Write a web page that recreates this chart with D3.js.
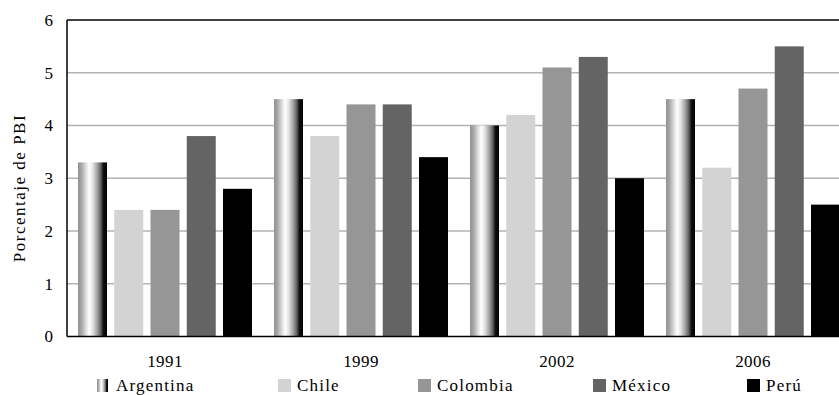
<!DOCTYPE html>
<html>
<head>
<meta charset="utf-8">
<script src="https://cdn.jsdelivr.net/npm/d3@7/dist/d3.min.js"></script>
<style>
  html, body { margin: 0; padding: 0; background: #fff; }
  svg { display: block; }
  svg text { font-family: "Liberation Serif", "Times New Roman", serif; fill: #000; }
</style>
</head>
<body>
<svg id="chart" width="839" height="395"></svg>
<script>
// Gasto como porcentaje del PBI, por país y año
const years = ["1991", "1999", "2002", "2006"];
const countries = ["Argentina", "Chile", "Colombia", "México", "Perú"];
const argentina = [3.3, 4.5, 4.0, 4.5];
const chile     = [2.4, 3.8, 4.2, 3.2];
const colombia  = [2.4, 4.4, 5.1, 4.7];
const mexico    = [3.8, 4.4, 5.3, 5.5];
const peru      = [2.8, 3.4, 3.0, 2.5];
const yTicks = [0, 1, 2, 3, 4, 5, 6];
const yTitle = "Porcentaje de PBI";

const seriesValues = [argentina, chile, colombia, mexico, peru];
const fills = ["url(#argGrad)", "#d3d3d3", "#969696", "#646464", "#000000"];
const serif = '"Liberation Serif", "Times New Roman", serif';

const svg = d3.select("#chart");
const margin = { left: 67, top: 20, bottom: 336.5 };
const plotRight = 851;

// gradient used for the Argentina bars (metallic cylinder look)
const defs = svg.append("defs");
const grad = defs.append("linearGradient").attr("id", "argGrad")
  .attr("x1", "0%").attr("x2", "100%").attr("y1", "0%").attr("y2", "0%");
[[0, "#8f8f8f"], [0.12, "#a8a8a8"], [0.38, "#ffffff"], [0.5, "#e6e6e6"],
 [0.68, "#9a9a9a"], [0.8, "#555555"], [0.87, "#111111"], [1, "#000000"]]
  .forEach(([o, c]) => grad.append("stop").attr("offset", o).attr("stop-color", c));

const x0 = d3.scaleBand().domain(years).range([margin.left, plotRight]).paddingInner(0).paddingOuter(0);
const x1 = d3.scaleBand().domain(countries).range([11, x0.bandwidth() - 11]).paddingInner(0.2).paddingOuter(0);
const y = d3.scaleLinear().domain([0, 6]).range([margin.bottom, margin.top]);

// horizontal gridlines
svg.append("g").selectAll("line").data(yTicks.filter(d => d > 0 && d < 6)).join("line")
  .attr("x1", margin.left).attr("x2", plotRight)
  .attr("y1", d => y(d)).attr("y2", d => y(d))
  .attr("stroke", "#b3b3b3").attr("stroke-width", 1.6);

// bars
const groups = svg.append("g").selectAll("g").data(years).join("g")
  .attr("transform", d => `translate(${x0(d)},0)`);
groups.selectAll("rect")
  .data((yr, i) => countries.map((c, k) => ({ c, k, v: seriesValues[k][i] })))
  .join("rect")
  .attr("x", d => x1(d.c))
  .attr("width", x1.bandwidth())
  .attr("y", d => y(d.v))
  .attr("height", d => y(0) - y(d.v))
  .attr("fill", d => fills[d.k]);

// frame: top, left and bottom lines
svg.append("line").attr("x1", margin.left).attr("x2", plotRight)
  .attr("y1", y(6)).attr("y2", y(6)).attr("stroke", "#000").attr("stroke-width", 1.5);
svg.append("line").attr("x1", margin.left).attr("x2", margin.left)
  .attr("y1", y(6)).attr("y2", y(0)).attr("stroke", "#000").attr("stroke-width", 1.5);
svg.append("line").attr("x1", margin.left).attr("x2", plotRight)
  .attr("y1", y(0)).attr("y2", y(0)).attr("stroke", "#000").attr("stroke-width", 1.5);

// y axis labels
const yAxis = d3.axisLeft(y).tickValues(yTicks).tickSize(0).tickPadding(14).tickFormat(d3.format("d"));
const ya = svg.append("g").attr("transform", `translate(${margin.left},0)`).call(yAxis);
ya.attr("font-family", null).attr("font-size", null);
ya.select(".domain").remove();
ya.selectAll("text").style("font-family", serif).style("font-size", "17px");

// x axis labels
const xAxis = d3.axisBottom(x0).tickSize(0).tickPadding(18);
const xa = svg.append("g").attr("transform", `translate(0,${y(0)})`).call(xAxis);
xa.attr("font-family", null).attr("font-size", null);
xa.select(".domain").remove();
xa.selectAll("text").style("font-family", serif).style("font-size", "17px")
  .style("letter-spacing", "0.4px");

// y axis title
svg.append("text")
  .attr("transform", `translate(25,188) rotate(-90)`)
  .attr("text-anchor", "middle")
  .style("font-family", serif)
  .style("font-size", "17px")
  .style("letter-spacing", "1.5px")
  .text(yTitle);

// legend
const legendX = [97, 278, 418, 593, 747];
const lg = svg.append("g").selectAll("g").data(countries).join("g")
  .attr("transform", (d, i) => `translate(${legendX[i]},379)`);
lg.append("rect").attr("width", (d, i) => i === 0 ? 11 : 13).attr("height", 13)
  .attr("fill", (d, i) => fills[i]);
lg.append("text").attr("x", 19).attr("y", 11.5)
  .style("font-family", serif)
  .style("font-size", "17px").style("letter-spacing", "1.2px")
  .text(d => d);
</script>
</body>
</html>
